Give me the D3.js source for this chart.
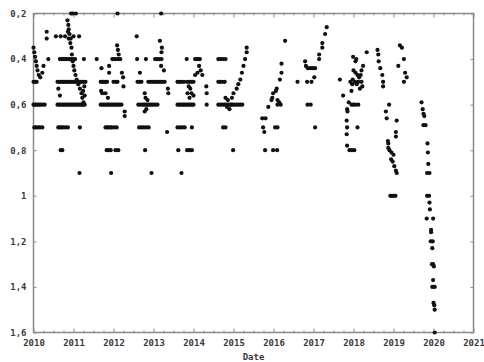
<!DOCTYPE html>
<html>
<head>
<meta charset="utf-8">
<script src="https://cdn.jsdelivr.net/npm/d3@7"></script>
<style>
  html, body { margin: 0; padding: 0; background: #fff; }
  svg text { font-family: "DejaVu Sans Mono", "Liberation Mono", monospace; font-weight: bold; fill: #3a3a3a; }
</style>
</head>
<body>
<svg id="chart" width="484" height="362"></svg>
<script>
// Observations: [decimal year, value], grouped by observing season.
const season2010 = [
  [2010.00,0.35],[2010.02,0.37],[2010.04,0.39],[2010.06,0.41],[2010.08,0.43],[2010.10,0.45],
  [2010.13,0.47],[2010.17,0.48],[2010.22,0.46],[2010.25,0.43],[2010.33,0.28],[2010.33,0.31],
  [2010.37,0.40],
  [2010.00,0.50],[2010.04,0.50],[2010.08,0.50],
  [2010.00,0.60],[2010.03,0.60],[2010.06,0.60],[2010.10,0.60],[2010.14,0.60],[2010.18,0.60],[2010.23,0.60],[2010.28,0.60],
  [2010.02,0.70],[2010.06,0.70],[2010.11,0.70],[2010.16,0.70],[2010.22,0.70]
];
const season2011 = [
  [2010.94,0.20],[2010.98,0.20],[2011.06,0.20],
  [2010.85,0.23],[2010.87,0.25],[2010.88,0.27],[2010.86,0.28],[2010.90,0.29],[2010.93,0.31],
  [2010.88,0.31],[2010.92,0.33],[2010.95,0.35],
  [2010.96,0.38],[2010.98,0.41],[2011.00,0.43],[2011.02,0.45],[2011.05,0.47],[2011.08,0.49],
  [2011.12,0.51],[2011.16,0.53],[2011.20,0.55],[2011.22,0.57],[2011.25,0.59],[2011.27,0.52],
  [2011.24,0.54],[2011.28,0.56],
  [2010.56,0.30],[2010.68,0.30],[2010.79,0.30],[2011.00,0.30],[2011.14,0.30],
  [2010.66,0.40],[2010.70,0.40],[2010.74,0.40],[2010.78,0.40],[2010.82,0.40],[2010.86,0.40],
  [2010.90,0.40],[2010.94,0.40],[2011.00,0.40],[2011.04,0.40],[2011.26,0.40],[2011.58,0.40],
  [2010.60,0.50],[2010.64,0.50],[2010.68,0.50],[2010.72,0.50],[2010.76,0.50],[2010.80,0.50],
  [2010.84,0.50],[2010.88,0.50],[2010.92,0.50],[2010.96,0.50],[2011.00,0.50],[2011.04,0.50],
  [2011.10,0.50],[2011.16,0.50],[2011.20,0.50],[2011.25,0.50],[2011.30,0.50],
  [2010.62,0.53],[2010.66,0.56],
  [2010.60,0.60],[2010.64,0.60],[2010.68,0.60],[2010.72,0.60],[2010.76,0.60],[2010.80,0.60],
  [2010.84,0.60],[2010.88,0.60],[2010.92,0.60],[2010.96,0.60],[2011.00,0.60],[2011.04,0.60],
  [2011.08,0.60],[2011.12,0.60],[2011.16,0.60],[2011.20,0.60],[2011.24,0.60],[2011.28,0.60],
  [2010.62,0.70],[2010.66,0.70],[2010.70,0.70],[2010.74,0.70],[2010.80,0.70],[2010.86,0.70],[2011.16,0.70],
  [2010.68,0.80],[2010.72,0.80],
  [2011.15,0.90]
];
const season2012 = [
  [2012.10,0.20],
  [2012.09,0.34],[2012.11,0.36],[2012.13,0.38],
  [2011.97,0.40],[2012.02,0.40],[2012.07,0.40],[2012.12,0.40],[2012.17,0.40],
  [2011.70,0.44],[2011.89,0.43],[2011.89,0.46],[2012.21,0.46],[2012.24,0.48],[2012.25,0.52],
  [2011.68,0.50],[2011.72,0.50],[2011.76,0.50],[2011.80,0.50],[2011.84,0.50],[2012.00,0.50],[2012.06,0.50],[2012.10,0.50],
  [2011.69,0.54],[2011.72,0.55],[2011.80,0.55],[2011.86,0.57],
  [2011.68,0.60],[2011.72,0.60],[2011.76,0.60],[2011.80,0.60],[2011.84,0.60],[2011.88,0.60],
  [2011.92,0.60],[2011.96,0.60],[2012.00,0.60],[2012.04,0.60],[2012.08,0.60],[2012.12,0.60],
  [2012.16,0.60],[2012.20,0.60],
  [2012.28,0.63],[2012.28,0.65],
  [2011.80,0.70],[2011.84,0.70],[2011.88,0.70],[2011.92,0.70],[2011.96,0.70],[2012.02,0.70],[2012.08,0.70],
  [2011.83,0.80],[2011.88,0.80],[2011.93,0.80],[2012.05,0.80],[2012.12,0.80],
  [2011.94,0.90]
];
const season2013 = [
  [2013.19,0.20],[2012.58,0.30],[2013.16,0.32],[2013.21,0.35],[2013.20,0.37],
  [2012.59,0.40],[2012.81,0.40],[2013.04,0.40],[2013.09,0.40],[2013.14,0.40],[2013.20,0.40],
  [2013.19,0.43],[2013.26,0.45],[2012.66,0.46],
  [2012.60,0.50],[2012.65,0.50],[2012.70,0.50],[2012.87,0.50],[2012.93,0.50],[2012.98,0.50],
  [2013.03,0.50],[2013.08,0.50],[2013.13,0.50],[2013.18,0.50],[2013.23,0.50],[2013.28,0.50],
  [2012.78,0.55],[2013.36,0.53],[2013.37,0.55],
  [2012.80,0.57],[2012.85,0.58],[2012.82,0.62],[2012.78,0.63],
  [2012.62,0.60],[2012.67,0.60],[2012.72,0.60],[2012.76,0.60],[2012.80,0.60],[2012.84,0.60],
  [2012.88,0.60],[2012.92,0.60],[2012.96,0.60],[2013.00,0.60],[2013.05,0.60],[2013.10,0.60],
  [2012.64,0.70],[2012.70,0.70],[2012.76,0.70],[2012.82,0.70],[2012.88,0.70],
  [2013.34,0.72],[2012.79,0.80],[2012.95,0.90]
];
const season2014 = [
  [2013.83,0.40],[2014.04,0.40],[2014.08,0.40],[2014.12,0.40],[2014.16,0.40],
  [2014.14,0.43],[2014.18,0.45],[2014.22,0.47],[2014.04,0.47],[2014.10,0.46],
  [2013.60,0.50],[2013.65,0.50],[2013.70,0.50],[2013.76,0.50],[2013.84,0.50],[2013.90,0.50],
  [2013.95,0.50],[2014.00,0.50],
  [2013.88,0.52],[2013.92,0.53],[2013.95,0.55],[2013.90,0.57],[2013.85,0.55],[2014.00,0.56],
  [2014.32,0.52],[2014.33,0.55],
  [2013.60,0.60],[2013.64,0.60],[2013.68,0.60],[2013.72,0.60],[2013.76,0.60],[2013.80,0.60],
  [2013.84,0.60],[2013.88,0.60],[2013.92,0.60],[2013.96,0.60],[2014.00,0.60],[2014.33,0.60],
  [2013.60,0.70],[2013.66,0.70],[2013.72,0.70],[2013.78,0.70],[2013.96,0.70],
  [2013.62,0.80],[2013.84,0.80],[2013.90,0.80],[2013.96,0.80],
  [2013.70,0.90]
];
const season2015 = [
  [2014.62,0.40],[2014.68,0.40],[2014.74,0.40],[2014.80,0.40],
  [2015.33,0.35],[2015.33,0.37],[2015.29,0.40],[2015.25,0.43],[2015.21,0.46],[2015.17,0.49],
  [2015.12,0.51],[2015.08,0.53],[2015.00,0.55],[2014.96,0.57],
  [2014.62,0.50],[2014.67,0.50],[2014.72,0.50],[2014.78,0.50],
  [2014.80,0.57],[2014.86,0.58],[2014.90,0.62],[2014.95,0.60],[2014.84,0.61],
  [2014.62,0.60],[2014.67,0.60],[2014.72,0.60],[2014.77,0.60],[2014.82,0.60],[2014.87,0.60],
  [2014.92,0.60],[2014.97,0.60],[2015.02,0.60],[2015.07,0.60],[2015.12,0.60],[2015.17,0.60],[2015.22,0.60],
  [2014.74,0.70],[2014.80,0.70],[2014.99,0.80]
];
const season2016 = [
  [2016.29,0.32],[2016.20,0.42],[2016.20,0.46],[2016.16,0.49],[2016.08,0.53],[2016.06,0.54],
  [2015.99,0.55],[2015.97,0.57],[2015.95,0.58],[2015.87,0.61],
  [2016.10,0.58],[2016.14,0.59],[2016.18,0.60],[2016.10,0.60],
  [2015.72,0.66],[2015.80,0.66],[2015.74,0.70],[2015.77,0.72],[2016.04,0.70],[2016.10,0.70],
  [2015.79,0.80],[2015.99,0.80],[2016.09,0.80]
];
const season2017 = [
  [2017.33,0.26],[2017.29,0.29],[2017.22,0.33],[2017.22,0.35],[2017.14,0.38],[2017.14,0.40],
  [2016.79,0.41],[2016.81,0.43],[2016.86,0.44],[2016.92,0.44],[2016.98,0.44],[2017.04,0.44],
  [2017.02,0.48],[2016.60,0.50],[2016.84,0.50],[2016.95,0.50],
  [2016.85,0.60],[2016.93,0.60],[2017.04,0.70]
];
const season2018 = [
  [2018.33,0.37],[2017.99,0.39],[2018.07,0.40],[2018.05,0.41],[2018.24,0.43],
  [2018.00,0.45],[2018.05,0.46],[2018.10,0.47],[2018.14,0.48],[2018.18,0.47],[2018.20,0.45],
  [2017.98,0.49],[2018.04,0.50],[2018.08,0.51],[2018.12,0.50],[2018.20,0.50],[2018.22,0.52],[2018.16,0.53],
  [2017.66,0.49],[2017.92,0.50],[2017.97,0.51],[2017.95,0.54],[2017.74,0.56],
  [2017.88,0.59],[2017.95,0.60],[2018.00,0.60],[2018.05,0.60],[2018.12,0.60],
  [2017.84,0.62],[2017.85,0.63],[2017.83,0.67],[2017.84,0.70],[2018.10,0.70],[2017.83,0.73],
  [2017.84,0.78],[2017.90,0.80],[2017.96,0.80],[2018.02,0.80]
];
const season2019 = [
  [2018.60,0.36],[2018.62,0.38],[2018.63,0.41],[2018.67,0.44],[2018.72,0.47],[2018.74,0.50],
  [2018.74,0.52],[2018.89,0.60],[2018.81,0.63],[2018.83,0.66],[2019.08,0.67],[2019.06,0.72],
  [2019.06,0.74],[2018.86,0.76],[2018.87,0.77],[2018.87,0.79],[2018.90,0.80],[2018.95,0.81],
  [2019.00,0.82],[2018.94,0.84],[2018.98,0.85],[2019.02,0.87],[2019.06,0.89],[2019.08,0.90],
  [2018.92,1.00],[2018.96,1.00],[2019.00,1.00],[2019.05,1.00],
  [2019.16,0.34],[2019.21,0.35],[2019.26,0.40],[2019.12,0.43],[2019.29,0.46],[2019.33,0.48],[2019.26,0.50]
];
const season2020 = [
  [2019.70,0.59],[2019.73,0.62],[2019.75,0.64],[2019.77,0.65],[2019.75,0.69],[2019.80,0.69],
  [2019.85,0.77],[2019.86,0.81],[2019.87,0.86],[2019.84,0.90],[2019.90,0.90],
  [2019.84,1.00],[2019.89,1.00],[2019.90,1.03],[2019.91,1.06],[2019.83,1.10],[2019.99,1.10],
  [2019.94,1.15],[2019.94,1.16],[2019.93,1.20],[2019.98,1.20],[2019.97,1.23],
  [2019.96,1.30],[2019.99,1.30],[2020.01,1.31],[2019.99,1.37],[2019.97,1.40],[2020.03,1.40],
  [2020.00,1.47],[2020.02,1.48],[2020.03,1.50],[2020.03,1.60]
];

const yearTicks = d3.range(2010, 2022);
const yTicks = [0.2, 0.4, 0.6, 0.8, 1.0, 1.2, 1.4, 1.6];
const xTitle = "Date";

const svg = d3.select("#chart");
const x = d3.scaleLinear().domain([2010, 2021]).range([33.5, 473.5]);
const y = d3.scaleLinear().domain([0.2, 1.6]).range([13.5, 332.5]);

const fmt = d3.formatLocale({decimal: ",", thousands: ".", grouping: [3], currency: ["", ""]}).format(".1~f");

const axisColor = "#8a8a8a";
function styleAxis(g) {
  g.select(".domain").remove();
  g.selectAll(".tick line").attr("stroke", axisColor).attr("stroke-width", 1);
  g.selectAll(".tick text").attr("font-size", 9).attr("fill", "#3a3a3a")
    .attr("font-family", "'DejaVu Sans Mono', monospace").attr("font-weight", "bold");
}

const quarterTicks = d3.range(2010, 2021.01, 0.25).filter(t => Math.abs(t - Math.round(t)) > 1e-6);

// bottom axis: major year ticks with labels, plus quarterly minor ticks
svg.append("g").attr("transform", `translate(0,${y(1.6)})`)
  .call(d3.axisBottom(x).tickValues(yearTicks).tickFormat(d3.format("d")).tickSize(-4).tickPadding(7))
  .call(styleAxis);
svg.append("g").attr("transform", `translate(0,${y(1.6)})`)
  .call(d3.axisBottom(x).tickValues(quarterTicks).tickFormat("").tickSize(-2))
  .call(styleAxis);
// top mirror ticks
svg.append("g").attr("transform", `translate(0,${y(0.2)})`)
  .call(d3.axisTop(x).tickValues(yearTicks).tickFormat("").tickSize(-4))
  .call(styleAxis);
svg.append("g").attr("transform", `translate(0,${y(0.2)})`)
  .call(d3.axisTop(x).tickValues(quarterTicks).tickFormat("").tickSize(-2))
  .call(styleAxis);
// left axis with comma decimals
svg.append("g").attr("transform", `translate(${x(2010)},0)`)
  .call(d3.axisLeft(y).tickValues(yTicks).tickFormat(fmt).tickSize(-3).tickPadding(7))
  .call(styleAxis);
// right mirror ticks
svg.append("g").attr("transform", `translate(${x(2021)},0)`)
  .call(d3.axisRight(y).tickValues(yTicks).tickFormat("").tickSize(-3))
  .call(styleAxis);

// plot frame
svg.append("rect")
  .attr("x", x(2010)).attr("y", y(0.2))
  .attr("width", x(2021) - x(2010)).attr("height", y(1.6) - y(0.2))
  .attr("fill", "none").attr("stroke", axisColor).attr("stroke-width", 1.5);

// x title
svg.append("text").attr("x", (x(2010) + x(2021)) / 2).attr("y", 360)
  .attr("text-anchor", "middle").attr("font-size", 9).text(xTitle);

// points
const seasons = [season2010, season2011, season2012, season2013, season2014, season2015,
                 season2016, season2017, season2018, season2019, season2020];
const points = seasons.flat();
svg.append("g").selectAll("circle").data(points).join("circle")
  .attr("cx", d => x(d[0])).attr("cy", d => y(d[1]))
  .attr("r", 2.1).attr("fill", "#111");
</script>
</body>
</html>
